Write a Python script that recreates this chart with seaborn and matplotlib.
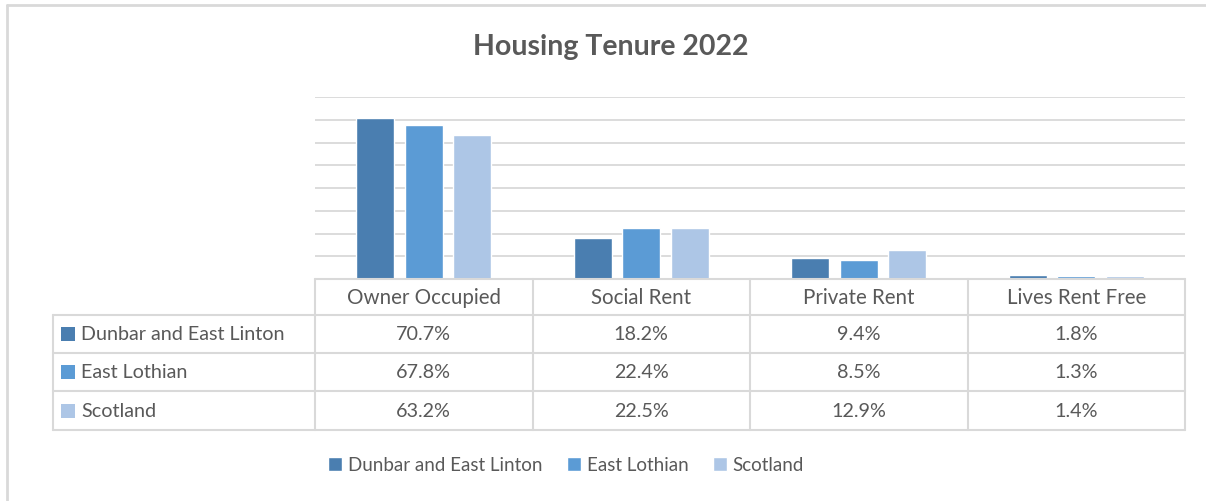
import pandas as pd
import matplotlib
matplotlib.use("Agg")
import matplotlib.pyplot as plt
from matplotlib.lines import Line2D
from matplotlib.patches import Rectangle
import seaborn as sns

# --------------------------
# DATA
# --------------------------
categories = ["Owner Occupied", "Social Rent", "Private Rent", "Lives Rent Free"]
areas = ["Dunbar and East Linton", "East Lothian", "Scotland"]
dunbar = [70.7, 18.2, 9.4, 1.8]
east_lothian = [67.8, 22.4, 8.5, 1.3]
scotland = [63.2, 22.5, 12.9, 1.4]
colors = ["#4A7EB0", "#5B9BD5", "#ADC6E6"]

series = {areas[0]: dunbar, areas[1]: east_lothian, areas[2]: scotland}
rows = []
for area, vals in series.items():
    for cat, v in zip(categories, vals):
        rows.append({"Tenure": cat, "Area": area, "Percent": v})
df = pd.DataFrame(rows)

# --------------------------
# FIGURE
# --------------------------
sns.set_theme(style="white")
plt.rcParams["font.family"] = ["Lato", "DejaVu Sans"]
TXT = "#595959"
GRID = "#D9D9D9"

W, H = 1206, 502
fig = plt.figure(figsize=(W / 100, H / 100), dpi=100)

def fx(x):
    return x / W

def fy(y):
    return 1 - y / H

# plot area in pixels
L, R, T, B = 315, 1185, 98, 280
ax = fig.add_axes([fx(L), fy(B), fx(R) - fx(L), fy(T) - fy(B)])

sns.barplot(data=df, x="Tenure", y="Percent", hue="Area", order=categories,
            hue_order=areas, palette=colors, width=0.67, gap=0.215,
            saturation=1, ax=ax, legend=True)

ax.set_xlim(-0.5, len(categories) - 0.5)
ax.set_ylim(0, 80)
ax.set_yticks(range(0, 81, 10))
ax.yaxis.grid(True, color=GRID, linewidth=1.3)
ax.set_axisbelow(True)
ax.set_xticks([])
ax.set_yticklabels([])
ax.tick_params(left=False, bottom=False)
ax.set_xlabel("")
ax.set_ylabel("")
for s in ["top", "left", "right", "bottom"]:
    ax.spines[s].set_visible(False)

handles, labels = ax.get_legend_handles_labels()
ax.get_legend().remove()

# --------------------------
# DATA TABLE
# --------------------------
def hline(x0, x1, y):
    fig.add_artist(Line2D([fx(x0), fx(x1)], [fy(y), fy(y)], color=GRID, lw=1.5))

def vline(x, y0, y1):
    fig.add_artist(Line2D([fx(x), fx(x)], [fy(y0), fy(y1)], color=GRID, lw=1.5))

col_w = (R - L) / len(categories)
row_y = [280, 316, 354, 392, 431]
label_left = 53

hline(L, R, row_y[0])
for y in row_y[1:]:
    hline(label_left, R, y)
for i in range(len(categories) + 1):
    vline(L + i * col_w, row_y[0], row_y[-1])
vline(label_left, row_y[1], row_y[-1])

fs = 14.2
for i, cat in enumerate(categories):
    fig.text(fx(L + (i + 0.5) * col_w), fy((row_y[0] + row_y[1]) / 2), cat,
             ha="center", va="center", fontsize=fs + 0.6, color=TXT)

for r, area in enumerate(areas):
    yc = (row_y[r + 1] + row_y[r + 2]) / 2
    fig.add_artist(Rectangle((fx(61), fy(yc + 7)), fx(14), 14 / H,
                             transform=fig.transFigure, color=colors[r], lw=0))
    fig.text(fx(81), fy(yc), area, ha="left", va="center", fontsize=fs, color=TXT)
    for i, v in enumerate(series[area]):
        fig.text(fx(L + (i + 0.5) * col_w), fy(yc), f"{v:.1f}%",
                 ha="center", va="center", fontsize=fs, color=TXT)

# --------------------------
# TITLE, LEGEND, BORDER
# --------------------------
fig.text(fx(611), fy(47), "Housing Tenure 2022", ha="center", va="center",
         fontsize=20.5, fontweight="bold", color=TXT)

fig.legend(handles, labels, loc="center", bbox_to_anchor=(fx(566), fy(466)),
           ncol=3, frameon=False, fontsize=13.5, labelcolor=TXT,
           handlelength=0.75, handleheight=0.75, handletextpad=0.3,
           columnspacing=1.3)

fig.add_artist(Line2D([fx(7), fx(W)], [fy(6), fy(6)], color=GRID, lw=2))
fig.add_artist(Line2D([fx(7), fx(7)], [fy(6), fy(H)], color=GRID, lw=2))

fig.savefig("out.png", dpi=100, facecolor="white")
